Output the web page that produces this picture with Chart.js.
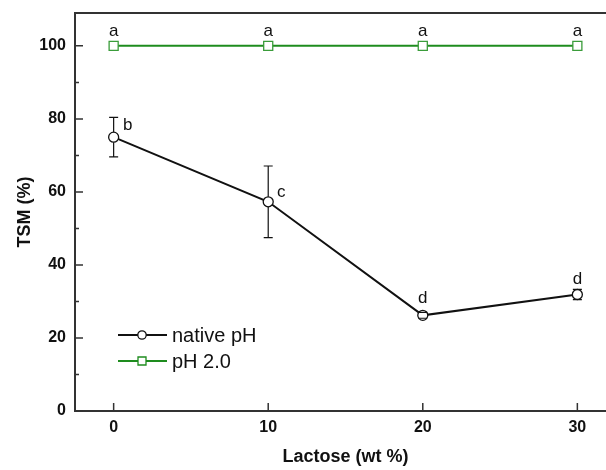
<!DOCTYPE html>
<html>
<head>
<meta charset="utf-8">
<script src="https://cdn.jsdelivr.net/npm/chart.js@4.4.1/dist/chart.umd.min.js"></script>
<style>
  html, body { margin: 0; padding: 0; background: #fff; overflow: hidden; }
  canvas { display: block; }
</style>
</head>
<body>
<canvas id="tsmChart" width="626" height="470"></canvas>
<script>
// data
const lactose = [0, 10, 20, 30];
const nativePH = [75, 57.3, 26.2, 31.9];
const nativeErr = [5.4, 9.8, 0.8, 1.4];
const acidPH = [100, 100, 100, 100];
const nativeLetters = ["b", "c", "d", "d"];
const acidLetters = ["a", "a", "a", "a"];
const xTicks = [0, 10, 20, 30];
const yTicks = [0, 20, 40, 60, 80, 100];
const yMinorTicks = [10, 30, 50, 70, 90];

const FONT = "'Liberation Sans', Arial, sans-serif";
const GREEN = "#1e8c1e";
const AXIS = "#333";

// error bars, letters, inner ticks, top frame, legend
const extras = {
  id: "extras",
  afterDatasetsDraw(chart) {
    const ctx = chart.ctx;
    const x = chart.scales.x;
    const y = chart.scales.y;
    const area = chart.chartArea;

    // error bars for native pH
    ctx.save();
    ctx.strokeStyle = "#111";
    ctx.lineWidth = 1.2;
    lactose.forEach((v, i) => {
      const px = x.getPixelForValue(v);
      const py = y.getPixelForValue(nativePH[i]);
      const top = y.getPixelForValue(nativePH[i] + nativeErr[i]);
      const bot = y.getPixelForValue(nativePH[i] - nativeErr[i]);
      ctx.beginPath();
      if (py - top > 5) {
        ctx.moveTo(px, top); ctx.lineTo(px, py - 5);
        ctx.moveTo(px, py + 5); ctx.lineTo(px, bot);
      }
      ctx.moveTo(px - 4.5, top); ctx.lineTo(px + 4.5, top);
      ctx.moveTo(px - 4.5, bot); ctx.lineTo(px + 4.5, bot);
      ctx.stroke();
    });
    ctx.restore();

    // significance letters
    ctx.save();
    ctx.fillStyle = "#111";
    ctx.font = "17px " + FONT;
    ctx.textAlign = "center";
    ctx.textBaseline = "middle";
    const offs = [[14, -12], [13, -9], [0, -17], [0, -15]];
    lactose.forEach((v, i) => {
      const px = x.getPixelForValue(v);
      ctx.fillText(acidLetters[i], px, y.getPixelForValue(acidPH[i]) - 15);
      ctx.fillText(nativeLetters[i], px + offs[i][0], y.getPixelForValue(nativePH[i]) + offs[i][1]);
    });
    ctx.restore();

    // inward ticks and top frame
    ctx.save();
    ctx.strokeStyle = AXIS;
    ctx.lineWidth = 1.5;
    ctx.beginPath();
    yTicks.forEach(v => {
      const py = y.getPixelForValue(v);
      ctx.moveTo(area.left, py); ctx.lineTo(area.left + 8, py);
    });
    yMinorTicks.forEach(v => {
      const py = y.getPixelForValue(v);
      ctx.moveTo(area.left, py); ctx.lineTo(area.left + 4, py);
    });
    xTicks.forEach(v => {
      const px = x.getPixelForValue(v);
      ctx.moveTo(px, area.bottom); ctx.lineTo(px, area.bottom - 8);
    });
    ctx.stroke();
    ctx.lineWidth = 2;
    ctx.beginPath();
    ctx.moveTo(area.left, area.top); ctx.lineTo(area.right, area.top);
    ctx.stroke();
    ctx.restore();

    // legend
    ctx.save();
    const rows = [
      { label: "native pH", color: "#111", y: 335, shape: "circle" },
      { label: "pH 2.0", color: GREEN, y: 361, shape: "rect" }
    ];
    rows.forEach(r => {
      ctx.strokeStyle = r.color;
      ctx.lineWidth = 2;
      ctx.beginPath();
      ctx.moveTo(118, r.y); ctx.lineTo(167, r.y);
      ctx.stroke();
      ctx.fillStyle = "#fff";
      ctx.lineWidth = 1.3;
      ctx.beginPath();
      if (r.shape === "circle") ctx.arc(142, r.y, 4.2, 0, Math.PI * 2);
      else ctx.rect(138, r.y - 4, 8, 8);
      ctx.fill();
      ctx.stroke();
      ctx.fillStyle = "#111";
      ctx.font = "20px " + FONT;
      ctx.textBaseline = "middle";
      ctx.fillText(r.label, 172, r.y + 1);
    });
    ctx.restore();
  }
};

document.addEventListener("DOMContentLoaded", function () {
  const ctx = document.getElementById("tsmChart");
  new Chart(ctx, {
    type: "line",
    data: {
      datasets: [
        {
          label: "native pH",
          data: lactose.map((v, i) => ({ x: v, y: nativePH[i] })),
          borderColor: "#111",
          borderWidth: 2,
          pointStyle: "circle",
          pointRadius: 5,
          pointBorderWidth: 1.3,
          pointBackgroundColor: "#fff",
          pointBorderColor: "#111",
          tension: 0
        },
        {
          label: "pH 2.0",
          data: lactose.map((v, i) => ({ x: v, y: acidPH[i] })),
          borderColor: GREEN,
          borderWidth: 2,
          pointStyle: "rect",
          pointRadius: 6.4,
          pointBorderWidth: 1.3,
          pointBackgroundColor: "#fff",
          pointBorderColor: "#3a9c3a",
          tension: 0
        }
      ]
    },
    options: {
      responsive: false,
      animation: false,
      layout: { padding: { top: 13, right: 10, left: 0, bottom: 0 } },
      plugins: { legend: { display: false }, tooltip: { enabled: false } },
      scales: {
        x: {
          type: "linear",
          min: -2.5,
          max: 32.5,
          afterBuildTicks: (s) => { s.ticks = xTicks.map(v => ({ value: v })); },
          afterFit: (s) => { s.height = 59; s.paddingLeft = 0; s.paddingRight = 0; },
          grid: { display: false, drawTicks: false },
          border: { display: true, color: AXIS, width: 2 },
          ticks: { color: "#111", padding: 7, font: { family: FONT, size: 16, weight: "bold" } },
          title: {
            display: true,
            text: "Lactose (wt %)",
            color: "#111",
            font: { family: FONT, size: 18, weight: "bold" },
            padding: { top: 10, bottom: 2 }
          }
        },
        y: {
          min: 0,
          max: 109,
          afterBuildTicks: (s) => { s.ticks = yTicks.map(v => ({ value: v })); },
          afterFit: (s) => { s.width = 75; s.paddingTop = 0; s.paddingBottom = 0; },
          grid: { display: false, drawTicks: false },
          border: { display: true, color: AXIS, width: 2 },
          ticks: { color: "#111", padding: 9, font: { family: FONT, size: 16, weight: "bold" } },
          title: {
            display: true,
            text: "TSM (%)",
            color: "#111",
            font: { family: FONT, size: 18, weight: "bold" },
            padding: { top: 14, bottom: 4 }
          }
        }
      }
    },
    plugins: [extras]
  });
});
</script>
</body>
</html>
